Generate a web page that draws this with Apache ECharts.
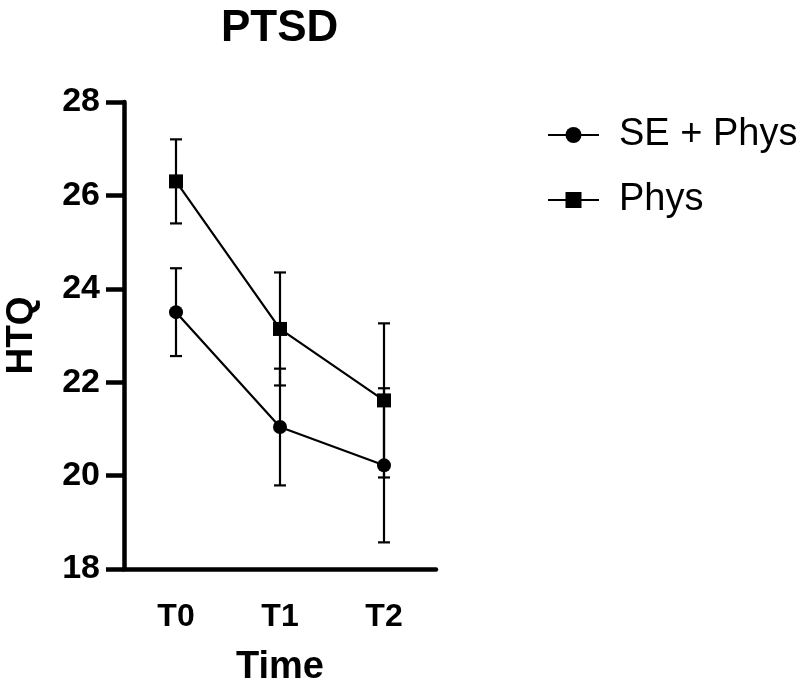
<!DOCTYPE html>
<html>
<head>
<meta charset="utf-8">
<script src="https://cdn.jsdelivr.net/npm/echarts@6/dist/echarts.min.js"></script>
<style>html,body{margin:0;padding:0;background:#fff}#c{width:800px;height:689px}</style>
</head>
<body>
<div id="c"></div>
<script>
var categories = ['T0', 'T1', 'T2'];
var seNames = ['SE + Phys', 'Phys'];
var seMeans = [23.50, 21.04, 20.22];
var seErr = [0.94, 1.25, 1.65];
var physMeans = [26.30, 23.14, 21.61];
var physErr = [0.90, 1.21, 1.65];
var yTicks = {min: 18, max: 28, interval: 2};

var FONT = 'Liberation Sans, Arial, Helvetica, sans-serif';

function errData(means, errs) {
  return means.map(function (m, i) { return [i, m - errs[i], m + errs[i]]; });
}
function errRender(params, api) {
  var x = api.value(0);
  var lo = api.coord([x, api.value(1)]);
  var hi = api.coord([x, api.value(2)]);
  var hw = 6;
  var st = {stroke: '#000', lineWidth: 2.2};
  return {
    type: 'group',
    children: [
      {type: 'line', shape: {x1: lo[0], y1: lo[1], x2: hi[0], y2: hi[1]}, style: st},
      {type: 'line', shape: {x1: lo[0] - hw, y1: lo[1], x2: lo[0] + hw, y2: lo[1]}, style: st},
      {type: 'line', shape: {x1: hi[0] - hw, y1: hi[1], x2: hi[0] + hw, y2: hi[1]}, style: st}
    ]
  };
}

var chart = echarts.init(document.getElementById('c'));
chart.setOption({
  animation: false,
  backgroundColor: '#fff',
  title: {
    text: 'PTSD', left: 216, top: 2,
    textStyle: {fontFamily: FONT, fontSize: 44, fontWeight: 'bold', color: '#000'}
  },
  legend: {
    orient: 'vertical', left: 542, top: 110,
    itemWidth: 51, itemHeight: 20, itemGap: 25,
    data: seNames,
    textStyle: {fontFamily: FONT, fontSize: 38, color: '#000', lineHeight: 40, padding: [0, 0, 0, 15]}
  },
  grid: {left: 124, top: 102, width: 312, height: 467, containLabel: false, outerBoundsMode: 'none'},
  xAxis: {
    type: 'category', data: categories, boundaryGap: true,
    name: 'Time', nameLocation: 'middle', nameGap: 80,
    nameTextStyle: {fontFamily: FONT, fontSize: 38, fontWeight: 'bold', color: '#000'},
    axisLine: {lineStyle: {color: '#000', width: 4.5}},
    axisTick: {alignWithLabel: true, length: 18, lineStyle: {color: '#000', width: 4.5}},
    axisLabel: {margin: 32, fontFamily: FONT, fontSize: 32, fontWeight: 'bold', color: '#000'},
    splitLine: {show: false}
  },
  yAxis: {
    type: 'value', min: yTicks.min, max: yTicks.max, interval: yTicks.interval,
    name: 'HTQ', nameLocation: 'middle', nameGap: 84, nameRotate: 90,
    nameTextStyle: {fontFamily: FONT, fontSize: 37, fontWeight: 'bold', color: '#000'},
    axisLine: {show: true, lineStyle: {color: '#000', width: 4.5}},
    axisTick: {show: true, length: 18, lineStyle: {color: '#000', width: 4.5}},
    axisLabel: {margin: 24, fontFamily: FONT, fontSize: 34, fontWeight: 'bold', color: '#000'},
    splitLine: {show: false}
  },
  series: [
    {type: 'custom', name: 'errSE', renderItem: errRender, data: errData(seMeans, seErr), z: 1, silent: true},
    {type: 'custom', name: 'errPhys', renderItem: errRender, data: errData(physMeans, physErr), z: 1, silent: true},
    {
      type: 'line', name: seNames[0], data: seMeans, z: 3,
      symbol: 'circle', symbolSize: 14,
      lineStyle: {color: '#000', width: 2.2}, itemStyle: {color: '#000'}
    },
    {
      type: 'line', name: seNames[1], data: physMeans, z: 3,
      symbol: 'rect', symbolSize: 14,
      lineStyle: {color: '#000', width: 2.2}, itemStyle: {color: '#000'}
    }
  ]
});
</script>
</body>
</html>
